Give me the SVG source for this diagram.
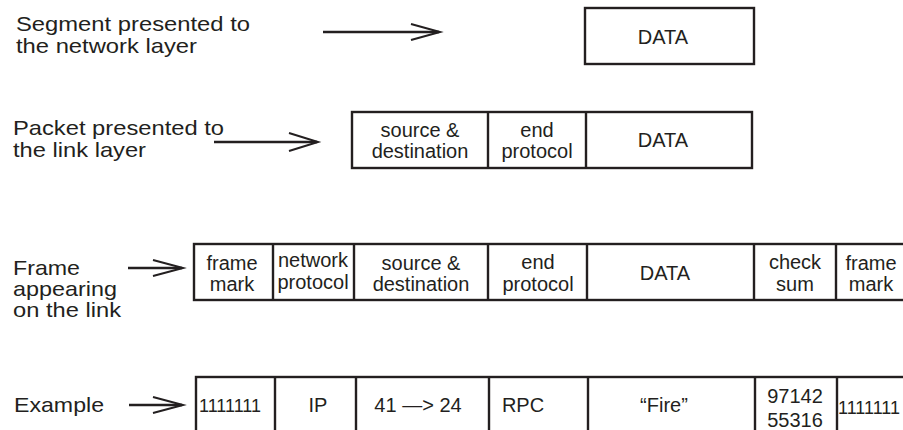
<svg xmlns="http://www.w3.org/2000/svg" width="903" height="430" viewBox="0 0 903 430">
<style>
text{font-family:"Liberation Sans",Arial,Helvetica,sans-serif;fill:#231f20}
.lbl{font-size:21px}
.cell{font-size:20px;text-anchor:middle}
.sm{font-size:18px}
.box{fill:#fff;stroke:#231f20;stroke-width:2.4}
.div{stroke:#231f20;stroke-width:2.4}
.arr{fill:none;stroke:#231f20;stroke-width:2.4}
.head{fill:none;stroke:#231f20;stroke-width:2}
</style>
<rect width="903" height="430" fill="#fff"/>

<g id="label-segment">
<text class="lbl" x="16" y="31" textLength="234" lengthAdjust="spacingAndGlyphs">Segment presented to</text>
<text class="lbl" x="16" y="53" textLength="181" lengthAdjust="spacingAndGlyphs">the network layer</text>
</g>
<g id="label-packet">
<text class="lbl" x="13" y="135" textLength="211" lengthAdjust="spacingAndGlyphs">Packet presented to</text>
<text class="lbl" x="13" y="157" textLength="133" lengthAdjust="spacingAndGlyphs">the link layer</text>
</g>
<g id="label-frame">
<text class="lbl" x="13" y="275" textLength="67" lengthAdjust="spacingAndGlyphs">Frame</text>
<text class="lbl" x="13" y="296" textLength="104" lengthAdjust="spacingAndGlyphs">appearing</text>
<text class="lbl" x="13" y="317" textLength="108" lengthAdjust="spacingAndGlyphs">on the link</text>
</g>
<g id="label-example">
<text class="lbl" x="14" y="412" textLength="90" lengthAdjust="spacingAndGlyphs">Example</text>
</g>

<g id="connectors">
<line class="arr" x1="323" y1="32" x2="439" y2="32"/>
<polyline class="head" points="411,24 440,32 411,40"/>
<line class="arr" x1="214" y1="142" x2="317" y2="142"/>
<polyline class="head" points="289,133 318,142 289,151"/>
<line class="arr" x1="128" y1="268" x2="182" y2="268"/>
<polyline class="head" points="153,260 183,268 153,276"/>
<line class="arr" x1="129" y1="405" x2="182" y2="405"/>
<polyline class="head" points="153,397 183,405 153,413"/>
</g>

<g id="segment-data">
<rect class="box" x="585" y="8" width="169" height="56"/>
<text class="cell" x="663" y="44">DATA</text>
</g>

<g id="packet">
<rect class="box" x="352" y="112" width="400" height="56"/>
<line class="div" x1="488" y1="112" x2="488" y2="168"/>
<line class="div" x1="586" y1="112" x2="586" y2="168"/>
<g id="packet-srcdst">
<text class="cell" x="420" y="137">source &amp;</text>
<text class="cell" x="420" y="158">destination</text>
</g>
<g id="packet-end">
<text class="cell" x="537" y="137">end</text>
<text class="cell" x="537" y="158">protocol</text>
</g>
<g id="packet-data">
<text class="cell" x="663" y="147">DATA</text>
</g>
</g>

<g id="frame">
<rect class="box" x="194" y="244" width="720" height="56"/>
<line class="div" x1="273" y1="244" x2="273" y2="300"/>
<line class="div" x1="354" y1="244" x2="354" y2="300"/>
<line class="div" x1="488" y1="244" x2="488" y2="300"/>
<line class="div" x1="587" y1="244" x2="587" y2="300"/>
<line class="div" x1="754" y1="244" x2="754" y2="300"/>
<line class="div" x1="836" y1="244" x2="836" y2="300"/>
<g id="frame-mark1">
<text class="cell" x="232" y="270">frame</text>
<text class="cell" x="232" y="291">mark</text>
</g>
<g id="frame-netproto">
<text class="cell" x="313" y="267">network</text>
<text class="cell" x="313" y="289">protocol</text>
</g>
<g id="frame-srcdst">
<text class="cell" x="421" y="270">source &amp;</text>
<text class="cell" x="421" y="291">destination</text>
</g>
<g id="frame-end">
<text class="cell" x="538" y="269">end</text>
<text class="cell" x="538" y="291">protocol</text>
</g>
<g id="frame-data">
<text class="cell" x="665" y="280">DATA</text>
</g>
<g id="frame-check">
<text class="cell" x="795" y="269">check</text>
<text class="cell" x="795" y="291">sum</text>
</g>
<g id="frame-mark2">
<text class="cell" x="871" y="270">frame</text>
<text class="cell" x="871" y="291">mark</text>
</g>
</g>

<g id="example">
<rect class="box" x="196" y="377" width="720" height="70"/>
<line class="div" x1="275" y1="377" x2="275" y2="432"/>
<line class="div" x1="356" y1="377" x2="356" y2="432"/>
<line class="div" x1="489" y1="377" x2="489" y2="432"/>
<line class="div" x1="588" y1="377" x2="588" y2="432"/>
<line class="div" x1="755" y1="377" x2="755" y2="432"/>
<line class="div" x1="837" y1="377" x2="837" y2="432"/>
<g id="ex-mark1"><text class="sm" x="199" y="412">1111111</text></g>
<g id="ex-ip"><text class="cell" x="318" y="412">IP</text></g>
<g id="ex-addr"><text class="cell" x="418" y="412">41 —&gt; 24</text></g>
<g id="ex-rpc"><text class="cell" x="523" y="412">RPC</text></g>
<g id="ex-data"><text class="cell" x="664" y="412">“Fire”</text></g>
<g id="ex-check">
<text class="cell" x="795" y="403">97142</text>
<text class="cell" x="795" y="427">55316</text>
</g>
<g id="ex-mark2"><text class="sm" x="838" y="414">1111111</text></g>
</g>
</svg>
